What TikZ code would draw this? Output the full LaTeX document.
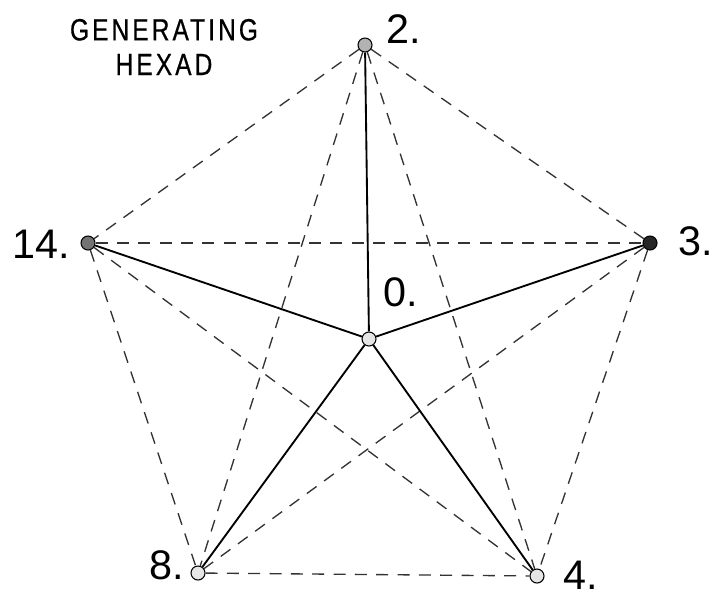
\documentclass[tikz,border=0pt]{standalone}
\usepackage{fontspec}
\setmainfont{Liberation Sans}
\newfontfamily\titlefont[FakeStretch=0.8, LetterSpace=10, FakeBold=0.6]{Liberation Sans}
\usetikzlibrary{positioning}

\begin{document}
\begin{tikzpicture}[
  x=0.75pt, y=-0.75pt,
  pt/.style={circle, draw=black, thick, inner sep=0pt, minimum size=10.5pt, fill=black!10},
  lbl/.style={font=\fontsize{31}{34}\selectfont, inner sep=0pt, anchor=west},
  spoke/.style={line width=1.4pt, black},
  chord/.style={line width=1pt, black!80, dash pattern=on 9pt off 7pt}
]
  \useasboundingbox (0,0) rectangle (712,597);

  % the six points of the hexad
  \node[pt, fill=black!30]  (n2)  at (365,45)  {};
  \node[pt, fill=black!85]  (n3)  at (650,243) {};
  \node[pt, fill=black!55]  (n14) at (88,243)  {};
  \node[pt]                 (n0)  at (369,339) {};
  \node[pt]                 (n8)  at (198,573) {};
  \node[pt]                 (n4)  at (537,576) {};

  \node[lbl] (l2)  at (386,29)  {2.};
  \node[lbl] (l3)  at (678,241) {3.};
  \node[lbl, anchor=east] (l14) at (70,244) {14.};
  \node[lbl] (l0)  at (383,292) {0.};
  \node[lbl, anchor=east] (l8)  at (184,565) {8.};
  \node[lbl] (l4)  at (563,575) {4.};

  \node[font=\titlefont\fontsize{23}{26}\selectfont, align=center, inner sep=0pt] (title) at (164,47)
    {GENERATING\\HEXAD};

  % dashed chords between the outer points
  \foreach \a/\b in {n2/n3, n2/n14, n2/n8, n2/n4, n14/n3, n14/n8, n14/n4, n3/n8, n3/n4, n8/n4}
    \draw[chord] (\a) -- (\b);

  % spokes from 0
  \foreach \b in {n2, n3, n14, n8, n4}
    \draw[spoke] (n0) -- (\b);
\end{tikzpicture}
\end{document}
